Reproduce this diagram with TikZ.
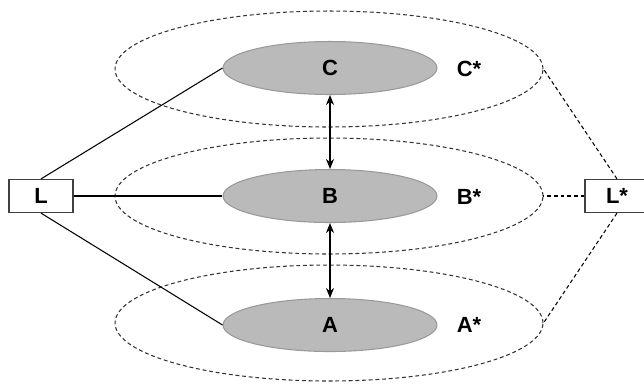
\documentclass[tikz,border=0pt]{standalone}
\usepackage{fontspec}
\setmainfont{Liberation Sans}
\usetikzlibrary{arrows.meta, shapes.geometric}

\begin{document}
\begin{tikzpicture}[
  x=0.02cm, y=-0.02cm,
  font=\bfseries\fontsize{12.5}{14}\selectfont,
  core/.style={ellipse, draw=black!40, fill=black!27, line width=0.6pt,
               minimum width=4.28cm, minimum height=1.06cm, inner sep=0pt},
  shell/.style={ellipse, draw=black!80, dashed, dash pattern=on 2.2pt off 1.6pt,
                line width=0.6pt, minimum width=8.56cm, minimum height=2.32cm,
                inner sep=0pt},
  lbox/.style={rectangle, draw=black!75, line width=0.7pt,
               minimum width=1.28cm, minimum height=0.66cm, inner sep=0pt},
  link/.style={line width=0.6pt},
  dlink/.style={line width=0.6pt, dashed, dash pattern=on 2.2pt off 1.6pt},
  arr/.style={{Stealth[length=2mm,width=1.6mm]}-{Stealth[length=2mm,width=1.6mm]}, line width=0.6pt}
]
  \useasboundingbox (0,0) rectangle (644,383);

  % outer dashed shells
  \node[shell] (cs) at (329,69) {};
  \node[shell] (bs) at (329,196) {};
  \node[shell] (as) at (329,323) {};

  % filled cores
  \node[core] (c) at (330,68) {C};
  \node[core] (b) at (330,196) {B};
  \node[core] (a) at (330,325) {A};

  % starred labels
  \node (cstar) at (469,69) {C*};
  \node (bstar) at (469,197) {B*};
  \node (astar) at (469,325) {A*};

  % side boxes
  \node[lbox] (l) at (41,196) {L};
  \node[lbox] (lstar) at (617,196) {L*};

  \draw[arr] (c) -- (b);
  \draw[arr] (b) -- (a);

  \draw[link] (l.north) -- (c.west);
  \draw[link] (l.east) -- (b.west);
  \draw[link] (l.south) -- (a.west);

  \draw[dlink] (lstar.north) -- (cs.east);
  \draw[dlink] (lstar.west) -- (bs.east);
  \draw[dlink] (lstar.south) -- (as.east);
\end{tikzpicture}
\end{document}
